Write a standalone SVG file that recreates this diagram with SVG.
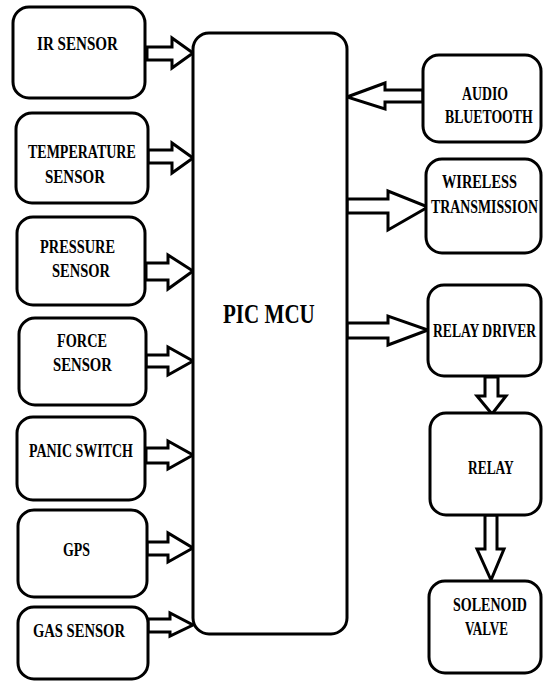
<svg xmlns="http://www.w3.org/2000/svg" width="543" height="681" viewBox="0 0 543 681">
<style>
.box{fill:#fff;stroke:#000;stroke-width:3}
.arr{fill:#fff;stroke:#000;stroke-width:3;stroke-linejoin:miter}
.t{font-family:"Liberation Serif","Times New Roman",serif;font-weight:bold;font-size:19px;fill:#000}
.big{font-size:27px}
</style>
<rect width="543" height="681" fill="#fff"/>
<g id="connectors">
<polygon class="arr" points="147,47 172,47 172,38 193,53 172,68 172,60 147,60"/>
<polygon class="arr" points="148,150 172,150 172,143 193,158 172,173 172,163 148,163"/>
<polygon class="arr" points="146,263 168,263 168,255 193,271 168,289 168,280 146,280"/>
<polygon class="arr" points="146,355 168,355 168,347 193,361 168,375 168,367 146,367"/>
<polygon class="arr" points="146,448 168,448 168,441 193,455 168,469 168,463 146,463"/>
<polygon class="arr" points="147,542 168,542 168,533 193,548 168,562 168,555 147,555"/>
<polygon class="arr" points="148,619 170,619 170,613 193,625 170,636 170,632 148,632"/>
<polygon class="arr" points="423,90 385,90 385,83 347,97 385,109 385,102 423,102"/>
<polygon class="arr" points="347,199 388,199 388,191 428,207 388,230 388,213 347,213"/>
<polygon class="arr" points="347,323 388,323 388,316 428,330 388,345 388,338 347,338"/>
<polygon class="arr" points="485,377 498,377 498,396 506,396 492,414 477,396 485,396"/>
<polygon class="arr" points="485,515 497,515 497,549 504,549 491,580 477,549 485,549"/>
</g>
<g id="pic-mcu">
<rect class="box" x="193" y="33" width="154" height="601" rx="16"/>
<text class="t big" transform="translate(223,323) scale(0.78,1)">PIC MCU</text>
</g>
<g id="ir-sensor">
<rect class="box" x="13" y="7" width="132" height="91" rx="16"/>
<text class="t" transform="translate(37,50) scale(0.795,1)">IR SENSOR</text>
</g>
<g id="temperature-sensor">
<rect class="box" x="16" y="113" width="132" height="90" rx="16"/>
<text class="t" transform="translate(28,158) scale(0.737,1)">TEMPERATURE</text>
<text class="t" transform="translate(45,183) scale(0.79,1)">SENSOR</text>
</g>
<g id="pressure-sensor">
<rect class="box" x="17" y="217" width="128" height="88" rx="16"/>
<text class="t" transform="translate(40,253) scale(0.756,1)">PRESSURE</text>
<text class="t" transform="translate(52,277) scale(0.763,1)">SENSOR</text>
</g>
<g id="force-sensor">
<rect class="box" x="19" y="318" width="127" height="87" rx="16"/>
<text class="t" transform="translate(57,347) scale(0.752,1)">FORCE</text>
<text class="t" transform="translate(53,371) scale(0.776,1)">SENSOR</text>
</g>
<g id="panic-switch">
<rect class="box" x="17" y="417" width="128" height="83" rx="16"/>
<text class="t" transform="translate(29,457) scale(0.734,1)">PANIC SWITCH</text>
</g>
<g id="gps">
<rect class="box" x="18" y="510" width="129" height="87" rx="16"/>
<text class="t" transform="translate(63,556) scale(0.73,1)">GPS</text>
</g>
<g id="gas-sensor">
<rect class="box" x="18" y="607" width="130" height="72" rx="16"/>
<text class="t" transform="translate(33,637) scale(0.768,1)">GAS SENSOR</text>
</g>
<g id="audio-bluetooth">
<rect class="box" x="423" y="55" width="118" height="87" rx="16"/>
<text class="t" transform="translate(462,100) scale(0.727,1)">AUDIO</text>
<text class="t" transform="translate(445,123) scale(0.725,1)">BLUETOOTH</text>
</g>
<g id="wireless-transmission">
<rect class="box" x="426" y="159" width="115" height="94" rx="16"/>
<text class="t" transform="translate(442,188) scale(0.755,1)">WIRELESS</text>
<text class="t" transform="translate(431,213) scale(0.729,1)">TRANSMISSION</text>
</g>
<g id="relay-driver">
<rect class="box" x="428" y="285" width="113" height="91" rx="16"/>
<text class="t" transform="translate(433,337) scale(0.718,1)">RELAY DRIVER</text>
</g>
<g id="relay">
<rect class="box" x="430" y="413" width="111" height="102" rx="16"/>
<text class="t" transform="translate(468,474) scale(0.707,1)">RELAY</text>
</g>
<g id="solenoid-valve">
<rect class="box" x="429" y="581" width="112" height="92" rx="16"/>
<text class="t" transform="translate(453,611) scale(0.738,1)">SOLENOID</text>
<text class="t" transform="translate(465,635) scale(0.692,1)">VALVE</text>
</g>
</svg>
